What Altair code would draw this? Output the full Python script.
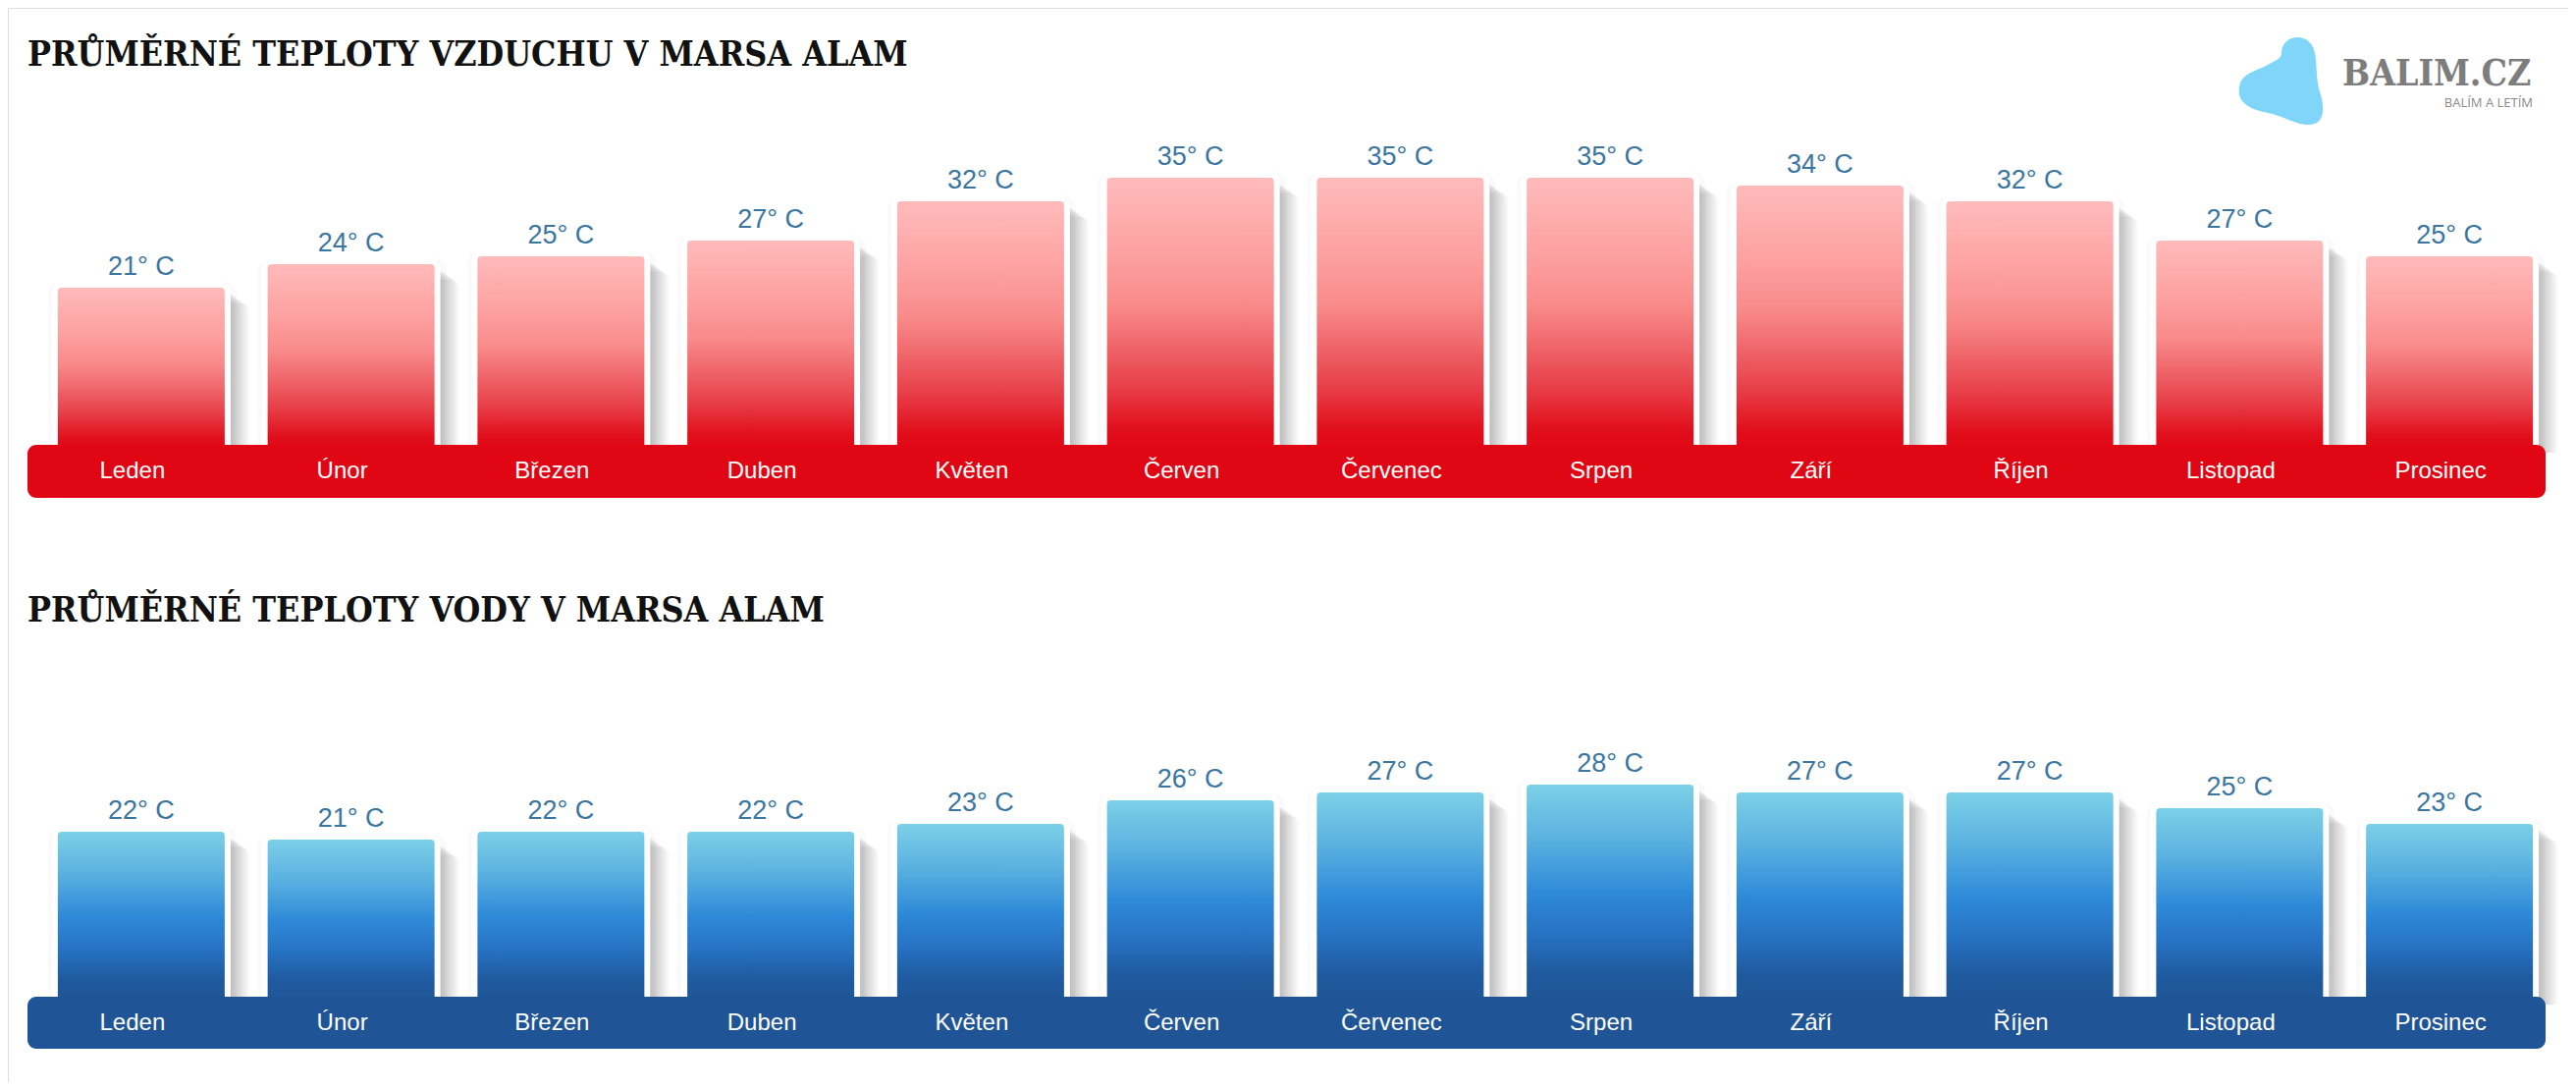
import altair as alt
import pandas as pd

months = ["Leden", "Únor", "Březen", "Duben", "Květen", "Červen",
          "Červenec", "Srpen", "Září", "Říjen", "Listopad", "Prosinec"]
air_temps = [21, 24, 25, 27, 32, 35, 35, 35, 34, 32, 27, 25]
water_temps = [22, 21, 22, 22, 23, 26, 27, 28, 27, 27, 25, 23]

title_air = "PRŮMĚRNÉ TEPLOTY VZDUCHU V MARSA ALAM"
title_water = "PRŮMĚRNÉ TEPLOTY VODY V MARSA ALAM"
logo_main = "BALIM.CZ"
logo_sub = "BALÍM A LETÍM"

df = pd.DataFrame({
    "month": months,
    "air": air_temps,
    "water": water_temps,
    "air_label": [f"{v}° C" for v in air_temps],
    "water_label": [f"{v}° C" for v in water_temps],
})
one = pd.DataFrame({"k": [0]})

W, H = 2608, 1094
XR = [20, 2585]
SANS = "Liberation Sans, Arial, Helvetica, sans-serif"
SLAB = "DejaVu Serif Condensed, DejaVu Serif, serif"

xenc = alt.X("month:N", sort=months,
             scale=alt.Scale(domain=months, range=XR, paddingInner=0, paddingOuter=0),
             axis=None)

red_grad = alt.LinearGradient(
    gradient="linear", x1=0, x2=0, y1=0, y2=1,
    stops=[alt.GradientStop(color="#ffbcbc", offset=0),
           alt.GradientStop(color="#fd9f9f", offset=0.30),
           alt.GradientStop(color="#f98a8a", offset=0.47),
           alt.GradientStop(color="#f06a6e", offset=0.60),
           alt.GradientStop(color="#e8404a", offset=0.76),
           alt.GradientStop(color="#e10e1b", offset=0.92),
           alt.GradientStop(color="#e10613", offset=1)])
blue_grad = alt.LinearGradient(
    gradient="linear", x1=0, x2=0, y1=0, y2=1,
    stops=[alt.GradientStop(color="#7ed2e8", offset=0),
           alt.GradientStop(color="#5bb2e0", offset=0.25),
           alt.GradientStop(color="#2e8ad8", offset=0.50),
           alt.GradientStop(color="#2670c0", offset=0.70),
           alt.GradientStop(color="#1f5a9e", offset=0.86),
           alt.GradientStop(color="#1f5596", offset=1)])


def panel(field, label_field, yrange, grad, band_color, band_y, label_y):
    yenc = alt.Y(f"{field}:Q", scale=alt.Scale(domain=[0, 50], range=yrange), axis=None)
    y2enc = alt.Y2(datum=0)
    base = alt.Chart(df)
    layers = []
    # faint halo around the top
    layers.append(base.mark_bar(
        width=192, color="#000000", opacity=0.018, xOffset=10, yOffset=-6,
        cornerRadiusTopLeft=14, cornerRadiusTopRight=14,
    ).encode(x=xenc, y=yenc, y2=y2enc))
    # soft shadow (faked by stacked translucent bars)
    for k in range(1, 11):
        layers.append(base.mark_bar(
            width=176, color="#000000", opacity=0.026,
            xOffset=9 + 2.2 * k, yOffset=1.6 * k,
            cornerRadiusTopLeft=8, cornerRadiusTopRight=8,
        ).encode(x=xenc, y=yenc, y2=y2enc))
    # bars
    layers.append(base.mark_bar(
        width=176, color=grad, stroke="white", strokeWidth=6, xOffset=9, yOffset=-3,
        cornerRadiusTopLeft=7, cornerRadiusTopRight=7,
    ).encode(x=xenc, y=yenc, y2=y2enc))
    # band
    layers.append(alt.Chart(one).mark_rect(
        color=band_color, cornerRadius=9,
    ).encode(x=alt.value(XR[0]), x2=alt.value(XR[1]),
             y=alt.value(band_y[0]), y2=alt.value(band_y[1])))
    # month labels
    layers.append(base.mark_text(
        color="white", font=SANS, fontSize=24, baseline="alphabetic", align="center",
    ).encode(x=xenc, y=alt.value(label_y), text="month:N"))
    # value labels
    layers.append(base.mark_text(
        color="#3a76a0", font=SANS, fontSize=27, baseline="alphabetic", align="center",
        xOffset=9, dy=-13,
    ).encode(x=xenc, y=yenc, text=f"{label_field}:N"))
    return layers


air_layers = panel("air", "air_label", [453, 53], red_grad, "#e10613", (445, 499), 479)
water_layers = panel("water", "water_label", [1015, 615], blue_grad, "#1f5596", (1007, 1060), 1041)

titles = [
    alt.Chart(one).mark_text(font=SLAB, fontSize=35.5, fontWeight="bold", color="#111111",
                             align="left", baseline="alphabetic")
    .encode(x=alt.value(20), y=alt.value(59), text=alt.value(title_air)),
    alt.Chart(one).mark_text(font=SLAB, fontSize=35.5, fontWeight="bold", color="#111111",
                             align="left", baseline="alphabetic")
    .encode(x=alt.value(20), y=alt.value(625), text=alt.value(title_water)),
]

blob_path = ("M 0.0 -0.62 C 0.0 -1.05 0.62 -1.12 0.74 -0.68 "
             "C 0.82 -0.40 0.76 -0.05 0.88 0.30 "
             "C 0.98 0.62 0.98 1.0 0.62 1.0 "
             "C 0.32 1.0 0.05 0.80 -0.35 0.72 "
             "C -0.82 0.64 -1.04 0.42 -0.94 0.08 "
             "C -0.86 -0.18 -0.55 -0.22 -0.30 -0.36 "
             "C -0.12 -0.46 0.0 -0.50 0.0 -0.62 Z")
logo = [
    alt.Chart(one).mark_point(shape=blob_path, filled=True, color="#7fd6f8",
                              opacity=1, size=8100, strokeWidth=0)
    .encode(x=alt.value(2316), y=alt.value(74)),
    alt.Chart(one).mark_text(font=SLAB, fontSize=37, fontWeight="bold", color="#7d7d7d",
                             align="left", baseline="alphabetic")
    .encode(x=alt.value(2378), y=alt.value(79), text=alt.value(logo_main)),
    alt.Chart(one).mark_text(font="Open Sans, " + SANS, fontSize=13, color="#8a8a8a",
                             align="right", baseline="alphabetic")
    .encode(x=alt.value(2572), y=alt.value(101), text=alt.value(logo_sub)),
]

chart = alt.layer(*air_layers, *water_layers, *titles, *logo).resolve_scale(
    y="independent"
).properties(
    width=W, height=H, autosize=alt.AutoSizeParams(type="none"), padding=0,
).configure_view(stroke=None).configure(background="white")

chart.save("out.html", embed_options={"renderer": "svg", "actions": False})
